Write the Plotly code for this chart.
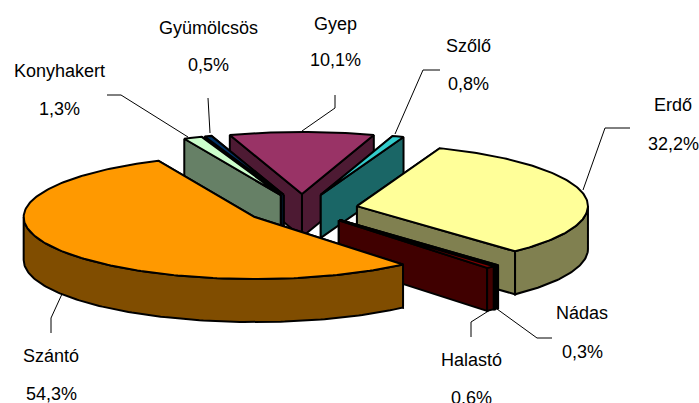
import numpy as np
import plotly.graph_objects as go

categories = ["Erdő", "Nádas", "Halastó", "Szántó", "Konyhakert", "Gyümölcsös", "Gyep", "Szőlő"]
values = [32.2, 0.3, 0.6, 54.3, 1.3, 0.5, 10.1, 0.8]
top_colors = ["#FFFF99", "#000000", "#800000", "#FF9900", "#CCFFCC", "#003366", "#993366", "#33CCCC"]
side_colors = ["#808050", "#000000", "#400000", "#804D00", "#668066", "#001A33", "#4D1A33", "#1A6666"]
draw_order = ["Gyep", "Szőlő", "Gyümölcsös", "Konyhakert", "Erdő", "Nádas", "Halastó", "Szántó"]

label_pos = {
    "Erdő": (673, 105, 144), "Nádas": (582, 313, 352), "Halastó": (471, 360, 398),
    "Szántó": (51, 356, 394), "Konyhakert": (59, 71, 109), "Gyümölcsös": (208, 28, 65),
    "Gyep": (335, 24, 60), "Szőlő": (468, 46, 84),
}
leaders = {
    "Konyhakert": ([107, 121, 188], [95, 95, 137]),
    "Gyümölcsös": ([208, 210], [98, 133]),
    "Gyep": ([335, 335, 302], [95, 108, 131]),
    "Szőlő": ([440, 423, 395], [70, 70, 134]),
    "Erdő": ([630, 605, 583], [128, 128, 190]),
    "Nádas": ([552, 537, 497], [338, 338, 309]),
    "Halastó": ([471, 471, 490], [337, 322, 310]),
    "Szántó": ([51, 51, 62], [333, 318, 294]),
}

CX, CY, RX, RY, EXPLODE, DEPTH, ROTATION = 302, 209, 231, 62, 56, 43, 21
FONT = dict(family="Liberation Sans, Arial", size=18, color="#000000")

fig = go.Figure()


def poly(xs, ys, fill):
    xs, ys = list(xs), list(ys)
    fig.add_trace(go.Scatter(x=xs + xs[:1], y=ys + ys[:1], mode="lines", fill="toself",
                             fillcolor=fill, line=dict(color="#000000", width=2),
                             hoverinfo="skip", showlegend=False))


total = sum(values)
spans, a = {}, ROTATION
for name, v in zip(categories, values):
    spans[name] = (a, a + v / total * 360)
    a += v / total * 360


def point(ax, ay, deg):
    t = np.radians(deg)
    return ax + RX * np.sin(t), ay - RY * np.cos(t)


for name in draw_order:
    i = categories.index(name)
    a0, a1 = spans[name]
    mid = np.radians((a0 + a1) / 2)
    ax = CX + EXPLODE * np.sin(mid)
    ay = CY - EXPLODE * RY / RX * np.cos(mid)
    arc = np.linspace(a0, a1, max(4, int(a1 - a0)))
    ex = [point(ax, ay, d) for d in (a0, a1)]
    # radial walls, further edge first
    for px, py in sorted(ex, key=lambda p: p[1]):
        poly([ax, px, px, ax], [ay, py, py + DEPTH, ay + DEPTH], side_colors[i])
    # outer wall on the near half of the rim
    lo, hi = max(a0, 90), min(a1, 270)
    if hi > lo:
        d = np.linspace(lo, hi, max(4, int(hi - lo)))
        px, py = point(ax, ay, d)
        poly(np.r_[px, px[::-1]], np.r_[py, py[::-1] + DEPTH], side_colors[i])
    px, py = point(ax, ay, arc)
    poly(np.r_[ax, px], np.r_[ay, py], top_colors[i])

for name, (lx, ly) in leaders.items():
    fig.add_trace(go.Scatter(x=lx, y=ly, mode="lines", line=dict(color="#000000", width=1),
                             hoverinfo="skip", showlegend=False))

for name, v in zip(categories, values):
    x, y1, y2 = label_pos[name]
    for y, txt in ((y1, name), (y2, f"{v:.1f}%".replace(".", ","))):
        fig.add_annotation(x=x, y=y, text=txt, showarrow=False, font=FONT,
                           xanchor="center", yanchor="middle")

fig.update_xaxes(range=[0, 699], visible=False)
fig.update_yaxes(range=[403, 0], visible=False)
fig.update_layout(width=699, height=403, margin=dict(l=0, r=0, t=0, b=0),
                  paper_bgcolor="#FFFFFF", plot_bgcolor="#FFFFFF", showlegend=False)
fig.write_html("out.html", config={"displayModeBar": False},
               post_script="document.body.style.margin='0';document.body.style.overflow='hidden';")
